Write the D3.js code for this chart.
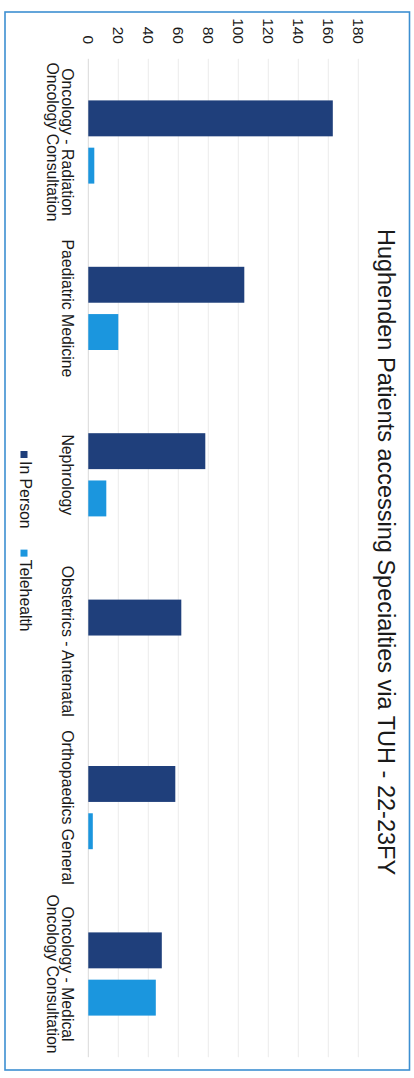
<!DOCTYPE html>
<html>
<head>
<meta charset="utf-8">
<script src="https://cdn.jsdelivr.net/npm/d3@7"></script>
<style>
  html, body { margin: 0; padding: 0; background: #ffffff; }
  svg { display: block; }
  text { font-family: "Liberation Sans", Arial, sans-serif; fill: #1a1a1a; }
</style>
</head>
<body>
<svg id="chart" width="414" height="1078"></svg>
<script>
// Specialty categories ("\n" marks a line break in the axis label)
const categories = [
  "Oncology - Radiation\nOncology Consultation",
  "Paediatric Medicine",
  "Nephrology",
  "Obstetrics - Antenatal",
  "Orthopaedics General",
  "Oncology - Medical\nOncology Consultation"
];
const seriesNames = ["In Person", "Telehealth"];
const inPerson   = [163, 104, 78, 62, 58, 49];
const telehealth = [4, 20, 12, 0, 3, 45];
const valueTicks = [0, 20, 40, 60, 80, 100, 120, 140, 160, 180];
const seriesColors = ["#1f3f7b", "#1b96de"];

const svg = d3.select("#chart");
const PAGE_W = 414, PAGE_H = 1078;

// The chart is laid out as a normal column chart, then turned a quarter turn clockwise.
const g = svg.append("g").attr("transform", `translate(${PAGE_W},0) rotate(90)`);

// Outer frame
g.append("rect")
  .attr("x", 12).attr("y", 4.5)
  .attr("width", 1058).attr("height", 404.5)
  .attr("fill", "none")
  .attr("stroke", "#3d8fd1")
  .attr("stroke-width", 1.6);

const x0 = d3.scaleBand().domain(categories).range([58.8, 1057.2]).paddingInner(0).paddingOuter(0);
const x1 = d3.scaleBand().domain(seriesNames)
  .range([x0.bandwidth() * 0.25, x0.bandwidth() * 0.75]).paddingInner(0.24);
const y = d3.scaleLinear().domain([0, 180]).range([325.7, 55.7]);

// Gridlines
g.append("g")
  .selectAll("line")
  .data(valueTicks)
  .join("line")
  .attr("x1", 58.8).attr("x2", 1057.2)
  .attr("y1", d => y(d)).attr("y2", d => y(d))
  .attr("stroke", d => d === 0 ? "#d9d9d9" : "#ececec")
  .attr("stroke-width", 1);

// Value axis labels
const yAxis = d3.axisLeft(y).tickValues(valueTicks).tickSize(0).tickPadding(0);
const ya = g.append("g").attr("transform", "translate(44,0)").call(yAxis);
ya.select(".domain").remove();
ya.selectAll("text")
  .attr("font-family", "'Liberation Sans', Arial, sans-serif")
  .attr("font-size", 15.5)
  .attr("fill", "#1a1a1a");

// Bars
const rows = categories.map((c, i) => ({ cat: c, vals: [inPerson[i], telehealth[i]] }));
const groups = g.append("g").selectAll("g")
  .data(rows)
  .join("g")
  .attr("transform", d => `translate(${x0(d.cat)},0)`);
groups.selectAll("rect")
  .data(d => d.vals.map((v, k) => ({ key: seriesNames[k], v, k })))
  .join("rect")
  .attr("x", d => x1(d.key))
  .attr("width", x1.bandwidth())
  .attr("y", d => y(d.v))
  .attr("height", d => y(0) - y(d.v))
  .attr("fill", d => seriesColors[d.k]);

// Category labels
const catLabels = g.append("g").selectAll("text")
  .data(categories)
  .join("text")
  .attr("text-anchor", "middle")
  .attr("font-size", 15.8)
  .attr("transform", d => `translate(${x0(d) + x0.bandwidth() / 2},352)`);
catLabels.selectAll("tspan")
  .data(d => d.split("\n"))
  .join("tspan")
  .attr("x", 0)
  .attr("dy", (d, i) => i === 0 ? 0 : 15.5)
  .text(d => d);

// Title
g.append("text")
  .attr("x", 552).attr("y", 36)
  .attr("text-anchor", "middle")
  .attr("font-size", 23.5)
  .text("Hughenden Patients accessing Specialties via TUH - 22-23FY");

// Legend
const legend = g.append("g").attr("transform", "translate(451,394)");
let lx = 0;
seriesNames.forEach((name, k) => {
  const item = legend.append("g").attr("transform", `translate(${lx},0)`);
  item.append("rect").attr("x", 0).attr("y", -7.5).attr("width", 7).attr("height", 7).attr("fill", seriesColors[k]);
  const t = item.append("text").attr("x", 10).attr("y", 0).attr("font-size", 15.8).text(name);
  lx += 10 + t.node().getComputedTextLength() + 21;
});
</script>
</body>
</html>
